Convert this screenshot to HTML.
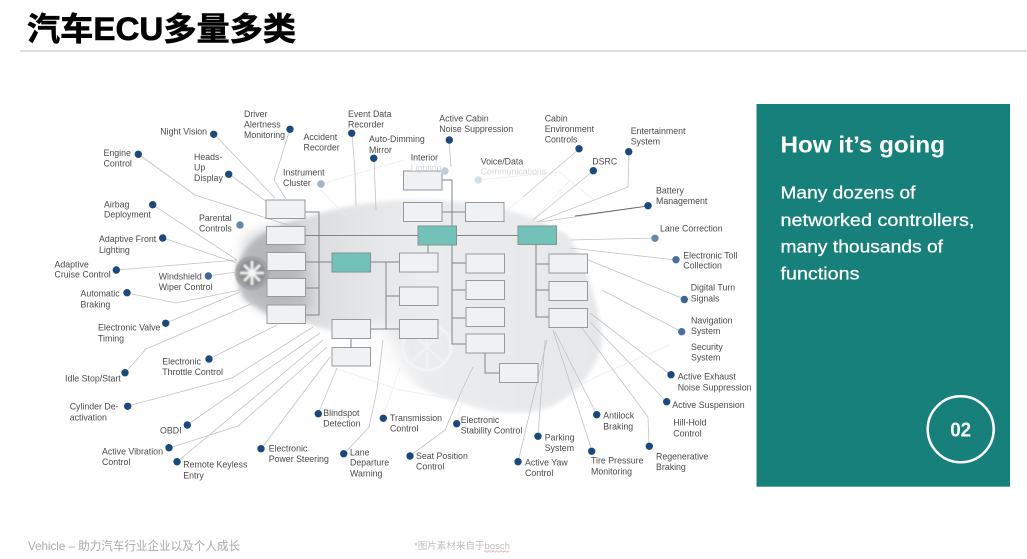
<!DOCTYPE html>
<html lang="zh"><head><meta charset="utf-8"><title>汽车ECU多量多类</title>
<style>
html,body{margin:0;padding:0;background:#fff;width:1027px;height:559px;overflow:hidden}
svg{display:block}
.l text{font-family:"Liberation Sans",sans-serif;font-size:8.8px;fill:#4a4a4a}
.f text{font-family:"Liberation Sans",sans-serif;font-size:8.8px;fill:#d4d7da}
.b rect{fill:#f0f1f3;stroke:#959a9e;stroke-width:1}
.t rect{fill:#73c2ba;stroke:#7f9592;stroke-width:1}
.c path{fill:none;stroke:#7f8589;stroke-width:1}
.w path{fill:none;stroke:#c0c2c4;stroke-width:.8}
.x path{fill:none;stroke:#eceded;stroke-width:.8}
.d circle{fill:#1c4a7c;r:3.7px}
</style></head><body>
<svg xmlns="http://www.w3.org/2000/svg" width="1027" height="559" viewBox="0 0 1027 559">
<defs>
<filter id="bl" x="-20%" y="-20%" width="140%" height="140%"><feGaussianBlur stdDeviation="2"/></filter>
<filter id="bw" x="-40%" y="-40%" width="180%" height="180%"><feGaussianBlur stdDeviation="14"/></filter>
<filter id="bg" x="-40%" y="-40%" width="180%" height="180%"><feGaussianBlur stdDeviation="7"/></filter>
<filter id="bs"><feGaussianBlur stdDeviation=".35"/></filter>
<filter id="bm"><feGaussianBlur stdDeviation=".7"/></filter>
<linearGradient id="car" x1="0" y1="0" x2="1" y2="0">
<stop offset="0" stop-color="#c4c6c8"/><stop offset=".2" stop-color="#dcdddf"/><stop offset=".5" stop-color="#ebecee"/><stop offset="1" stop-color="#e6e7e9"/></linearGradient>
</defs>
<rect width="1027" height="559" fill="#fff"/>
<text x="27" y="40" style="font-family:'Liberation Sans','Noto Sans CJK SC',sans-serif;font-weight:700;font-size:32px;stroke:#000;stroke-width:.6px" fill="#000" textLength="269" lengthAdjust="spacingAndGlyphs">汽车ECU多量多类</text>
<rect x="20" y="50.5" width="1007" height="1" fill="#b9b9b9"/>
<!-- car -->
<path filter="url(#bl)" fill="url(#car)" d="M238 262C250 240 262 232 290 222C340 205 390 198 430 200C480 201 530 212 568 235C585 262 602 310 602 346C590 385 560 408 530 412C500 414 480 410 463 403C430 395 400 380 380 360C350 340 320 322 270 316L245 300C236 285 235 272 238 262Z"/>
<path filter="url(#bg)" fill="#a4a6a9" opacity=".6" d="M245 240C262 230 282 226 300 226L312 310L270 312L245 295Z"/>
<path filter="url(#bg)" fill="#fff" opacity=".9" d="M320 335L385 325L420 395L380 405L330 370Z"/>
<g filter="url(#bm)">
<circle cx="252" cy="273" r="17" fill="#a2a4a7"/><circle cx="252" cy="273" r="13.500" fill="#8f9195"/>
<g stroke="#f0f0f0" stroke-width="2.600"><path d="M252 261v24M240 273h24M244 265l16 16M260 265l-16 16"/></g>
<circle cx="252" cy="273" r="3" fill="#f6f6f6"/>
<ellipse cx="427" cy="347" rx="24" ry="23" fill="none" stroke="#f6f6f7" stroke-width="2"/>
<g stroke="#f6f6f7" stroke-width="1.200"><path d="M427 326v42M411 332l32 30M443 332l-32 30"/></g>
</g>
<g filter="url(#bs)">
<!-- faint rays -->
<g class="x">
<path d="M321 184L404 160M445 171L400 175M478 180L560 172L600 205M321 190L345 215M240 225L252 238M523 197L495 220M533 220L570 180"/>
<path d="M383 418L400 367M670 345L600 375L530 412L400 390L335 368M456 424L472 368"/>
</g>
<!-- leader lines -->
<g class="w">
<path d="M214 134L275 198M290 129L274 180L286 199M352 133L355 172L356 206M138 154L195 195L288 225M229 174L267 202M374 158L376 210"/>
<path d="M153 205L237 260M163 238L237 263M116 270L237 260M208 276L237 272M127 293L176 303L240 290M166 323L240 292M125 373L146 349L253 303M209 359L277 325"/>
<path d="M128 406L232 378L313 327M187 425L320 333M169 448L238 426L327 347M177 462L323 340M261 449L330 357M318 414L337 368M344 454L369 427L377 390L383 340"/>
<path d="M410 456L445 430L462 390L473 367M518 462L547 340M538 436L545 340M597 415L555 332M592 451L553 330M649 446L648 417L582 328M667 402L590 322M671 375L590 313M682 332L602 290M684 299L588 260M676 260L570 248M655 238L570 240M648 206L540 222M629 152L628 187L537 222M593 171L533 220M579 149L523 197M449 140L451 167"/>
</g>
<path d="M648 206L575 216" stroke="#55595d" stroke-width=".8" fill="none"/>
<!-- connectors -->
<g class="c">
<path d="M305 212H319V315H305M305 235.500H418M305 262H332M305 288H319"/>
<path d="M371 262H399M386 262V329M386 296H399M371 329H399M351 339V347M428 245V253"/>
<path d="M442 180H452V344H466M442 212H466M457 235.500H518M452 263H466M452 290H466M452 318H466M485 353V373H499"/>
<path d="M536 244V317H549M536 264H549M536 290H549"/>
</g>
<!-- boxes -->
<g class="b">
<rect x="266" y="200" width="39" height="18.500"/><rect x="266.500" y="226.500" width="38.500" height="18"/><rect x="267" y="252.500" width="38.500" height="18"/><rect x="267" y="278.500" width="38.500" height="18"/><rect x="267" y="305" width="38.500" height="18.500"/>
<rect x="403.500" y="171" width="38.500" height="19"/><rect x="403.500" y="202.500" width="38.500" height="19"/><rect x="465.500" y="202.500" width="38.500" height="19"/>
<rect x="399.500" y="253" width="38.500" height="19"/><rect x="399.500" y="287" width="38.500" height="18.500"/><rect x="399.500" y="319.500" width="38.500" height="19"/>
<rect x="332" y="319.500" width="38.500" height="19"/><rect x="332" y="347.500" width="38.500" height="18.500"/>
<rect x="466" y="254" width="38.500" height="19"/><rect x="466" y="280.500" width="38.500" height="19"/><rect x="466" y="307.500" width="38.500" height="19"/><rect x="466" y="334" width="38.500" height="19"/>
<rect x="499.500" y="363.500" width="38.500" height="19"/>
<rect x="549" y="254" width="38.500" height="19"/><rect x="549" y="281.500" width="38.500" height="19"/><rect x="549" y="308.500" width="38.500" height="19"/>
</g>
<g class="t">
<rect x="332" y="253" width="38.500" height="19"/><rect x="418" y="226" width="38.500" height="19"/><rect x="518" y="226" width="38.500" height="18.500"/>
</g>
<!-- dots -->
<g class="d">
<circle cx="213.700" cy="134.300"/><circle cx="290" cy="129.300"/><circle cx="351.700" cy="133.300"/><circle cx="138.300" cy="154.300"/><circle cx="228.700" cy="174.300"/><circle cx="373.700" cy="158.300"/>
<circle cx="152.700" cy="204.700"/><circle cx="162.700" cy="238"/><circle cx="116.300" cy="270"/><circle cx="127" cy="292.700"/><circle cx="165.700" cy="323.300"/><circle cx="125" cy="372.700"/><circle cx="209" cy="359"/><circle cx="127.700" cy="406.300"/><circle cx="187.300" cy="425"/><circle cx="169" cy="447.700"/><circle cx="177" cy="461.700"/><circle cx="261" cy="448.700"/><circle cx="318.300" cy="413.700"/><circle cx="343.700" cy="453.700"/><circle cx="383.300" cy="418.300"/>
<circle cx="456.700" cy="423.700"/><circle cx="410" cy="456"/><circle cx="518" cy="461.700"/><circle cx="538" cy="436.300"/><circle cx="596.700" cy="414.700"/><circle cx="591.700" cy="451.300"/><circle cx="649.300" cy="446.300"/><circle cx="666.700" cy="401.700"/><circle cx="671" cy="374.700"/>
<circle cx="648" cy="205.700"/><circle cx="628.700" cy="151.700"/><circle cx="593.300" cy="170.700"/><circle cx="579" cy="148.700"/><circle cx="449.300" cy="140"/>
<circle cx="208.300" cy="276" style="fill:#3d6690"/><circle cx="681.700" cy="331.700" style="fill:#4a7099"/><circle cx="684.300" cy="299.500" style="fill:#3d6690"/><circle cx="676" cy="259.700" style="fill:#4a7099"/><circle cx="655" cy="238.300" style="fill:#6688ab"/><circle cx="240" cy="225" style="fill:#6688ab"/><circle cx="321" cy="184" style="fill:#a0b4c8"/><circle cx="445" cy="171" style="fill:#c0cedc"/><circle cx="478.300" cy="180" style="fill:#d3dee8"/>
</g>
<!-- labels -->
<g class="l">
<text x="160.300" y="134.500">Night Vision</text>
<text x="244" y="117">Driver</text><text x="244" y="127.500">Alertness</text><text x="244" y="138">Monitoring</text>
<text x="348" y="117">Event Data</text><text x="348" y="127.500">Recorder</text>
<text x="303.500" y="140">Accident</text><text x="303.500" y="150.700">Recorder</text>
<text x="369" y="142">Auto-Dimming</text><text x="369" y="153">Mirror</text>
<text x="103.500" y="156">Engine</text><text x="103.500" y="166.300">Control</text>
<text x="194" y="160">Heads-</text><text x="194" y="170.300">Up</text><text x="194" y="181">Display</text>
<text x="283" y="175.700">Instrument</text><text x="283" y="186">Cluster</text>
<text x="104" y="207.300">Airbag</text><text x="104" y="217.700">Deployment</text>
<text x="199" y="221">Parental</text><text x="199" y="231.700">Controls</text>
<text x="99" y="242">Adaptive Front</text><text x="99" y="253">Lighting</text>
<text x="54.500" y="267.300">Adaptive</text><text x="54.500" y="277.700">Cruise Control</text>
<text x="158.700" y="279.500">Windshield</text><text x="158.700" y="290">Wiper Control</text>
<text x="80.500" y="296.700">Automatic</text><text x="80.500" y="307.300">Braking</text>
<text x="98" y="330.700">Electronic Valve</text><text x="98" y="341.300">Timing</text>
<text x="65" y="381.700">Idle Stop/Start</text>
<text x="162.300" y="364.300">Electronic</text><text x="162.300" y="375">Throttle Control</text>
<text x="69.700" y="409.700">Cylinder De-</text><text x="69.700" y="420.300">activation</text>
<text x="160" y="433.700">OBDI</text>
<text x="102" y="454.300">Active Vibration</text><text x="102" y="465">Control</text>
<text x="183.300" y="467.700">Remote Keyless</text><text x="183.300" y="478.300">Entry</text>
<text x="268.700" y="451.300">Electronic</text><text x="268.700" y="462">Power Steering</text>
<text x="323.300" y="416">Blindspot</text><text x="323.300" y="426.700">Detection</text>
<text x="350" y="455.300">Lane</text><text x="350" y="465.700">Departure</text><text x="350" y="476.700">Warning</text>
<text x="390" y="421">Transmission</text><text x="390" y="431.700">Control</text>
<text x="460.700" y="423">Electronic</text><text x="460.700" y="433.700">Stability Control</text>
<text x="416" y="459">Seat Position</text><text x="416" y="469.700">Control</text>
<text x="525" y="465.300">Active Yaw</text><text x="525" y="476">Control</text>
<text x="544.700" y="440.300">Parking</text><text x="544.700" y="451">System</text>
<text x="591" y="463.300">Tire Pressure</text><text x="591" y="474.300">Monitoring</text>
<text x="603.300" y="418.700">Antilock</text><text x="603.300" y="429.300">Braking</text>
<text x="656" y="459.300">Regenerative</text><text x="656" y="470">Braking</text>
<text x="673.300" y="425.700">Hill-Hold</text><text x="673.300" y="436.300">Control</text>
<text x="672.300" y="408">Active Suspension</text>
<text x="677.700" y="379.700">Active Exhaust</text><text x="677.700" y="390.300">Noise Suppression</text>
<text x="691" y="350">Security</text><text x="691" y="360.700">System</text>
<text x="691" y="323.300">Navigation</text><text x="691" y="334">System</text>
<text x="690.700" y="290.700">Digital Turn</text><text x="690.700" y="301.500">Signals</text>
<text x="683.300" y="258.300">Electronic Toll</text><text x="683.300" y="268.700">Collection</text>
<text x="660" y="231.700">Lane Correction</text>
<text x="656" y="193.700">Battery</text><text x="656" y="204">Management</text>
<text x="630.700" y="134">Entertainment</text><text x="630.700" y="144.700">System</text>
<text x="592.300" y="164.300">DSRC</text>
<text x="544.700" y="121.300">Cabin</text><text x="544.700" y="132">Environment</text><text x="544.700" y="142.700">Controls</text>
<text x="439.300" y="121.300">Active Cabin</text><text x="439.300" y="132">Noise Suppression</text>
<text x="410.700" y="160.700">Interior</text><text x="480.700" y="164.300">Voice/Data</text>
</g>
<g class="f"><text x="410.700" y="171">Lighting</text><text x="480.700" y="174.700">Communications</text></g>
</g>
<!-- panel -->
<rect x="756.500" y="104" width="253.500" height="382.700" fill="#17807a"/>
<g fill="#fff" style="font-family:'Liberation Sans',sans-serif" filter="url(#bs)">
<text x="780.500" y="152.700" font-size="23" font-weight="700" textLength="164.500" lengthAdjust="spacingAndGlyphs">How it’s going</text>
<text x="780.500" y="198.300" font-size="17.500" textLength="135" lengthAdjust="spacingAndGlyphs" style="stroke:#fff;stroke-width:.25px">Many dozens of</text>
<text x="780.500" y="226" font-size="17.500" textLength="194" lengthAdjust="spacingAndGlyphs" style="stroke:#fff;stroke-width:.25px">networked controllers,</text>
<text x="780.500" y="252.700" font-size="17.500" textLength="162.500" lengthAdjust="spacingAndGlyphs" style="stroke:#fff;stroke-width:.25px">many thousands of</text>
<text x="780.500" y="279.300" font-size="17.500" textLength="79" lengthAdjust="spacingAndGlyphs" style="stroke:#fff;stroke-width:.25px">functions</text>
<circle cx="960.700" cy="429.300" r="33" fill="none" stroke="#fff" stroke-width="2.500"/>
<text x="960.700" y="436.500" font-size="20" font-weight="700" text-anchor="middle" textLength="21" lengthAdjust="spacingAndGlyphs">02</text>
</g>
<!-- footer -->
<g filter="url(#bs)">
<text x="28" y="550" style="font-family:'Liberation Sans','Noto Sans CJK SC',sans-serif;font-size:12px" fill="#a9a9a9" textLength="212" lengthAdjust="spacingAndGlyphs">Vehicle – 助力汽车行业企业以及个人成长</text>
<text x="414" y="549" style="font-family:'Liberation Sans','Noto Sans CJK SC',sans-serif;font-size:9.500px" fill="#bdbdbd" textLength="96" lengthAdjust="spacingAndGlyphs">*图片素材来自于bosch</text>
<path d="M484 551.500q1-1.200 2 0t2 0t2 0t2 0t2 0t2 0t2 0t2 0t2 0t2 0t2 0t2 0t1 0" stroke="#e6a0a0" stroke-width=".7" fill="none"/>
</g>
</svg>
</body></html>
